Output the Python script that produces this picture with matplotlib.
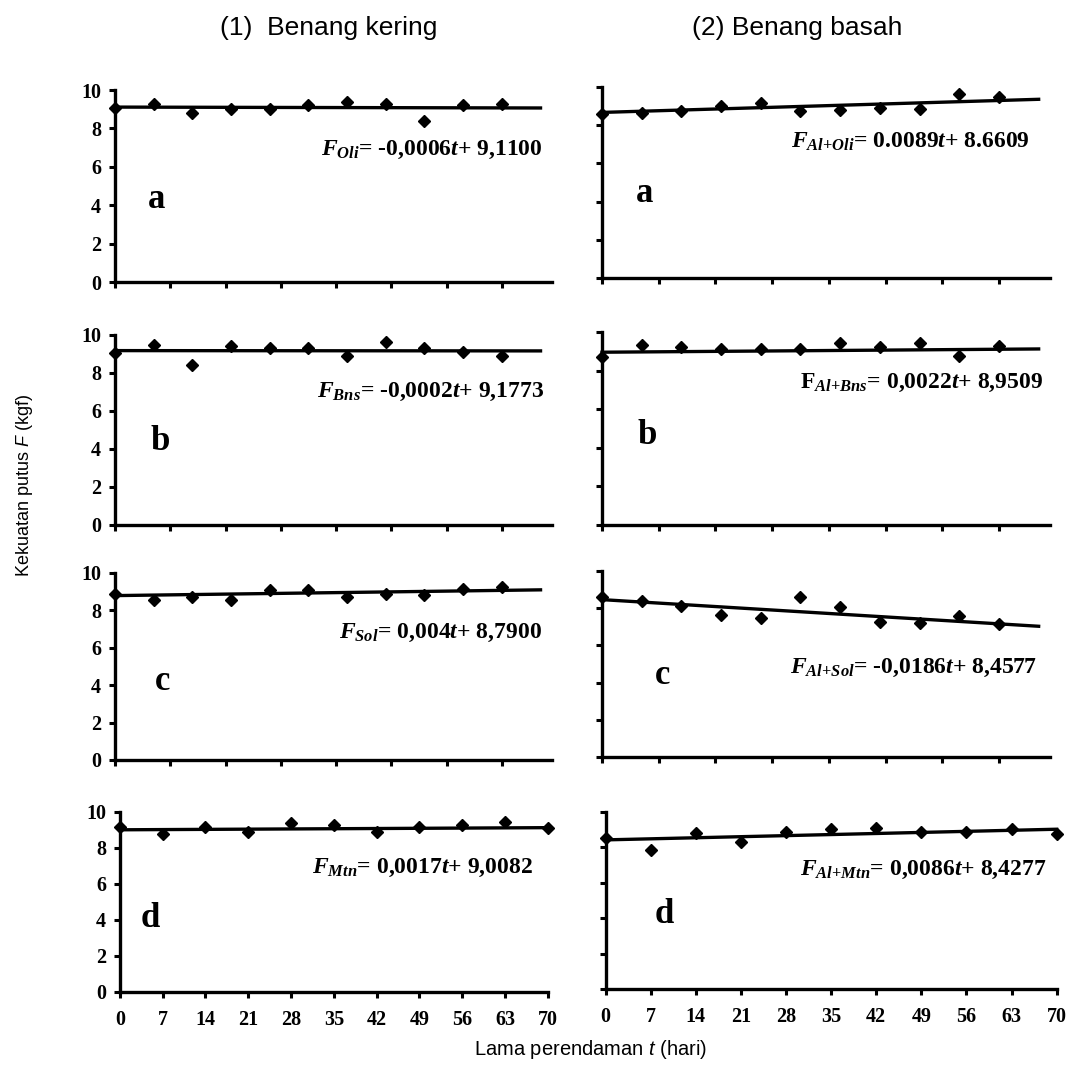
import matplotlib
matplotlib.use('Agg')
import matplotlib.pyplot as plt
import numpy as np

# soaking time (days)
t = [0, 7, 14, 21, 28, 35, 42, 49, 56, 63, 70]

# (1) dry thread
f_oli = [9.05, 9.28, 8.79, 9.02, 9.02, 9.23, 9.36, 9.28, 8.36, 9.23, 9.27]
f_bns = [9.03, 9.46, 8.41, 9.42, 9.30, 9.30, 8.90, 9.63, 9.30, 9.12, 8.90]
f_sol = [8.89, 8.53, 8.71, 8.53, 9.07, 9.07, 8.71, 8.89, 8.80, 9.15, 9.25]
f_mtn = [9.14, 8.78, 9.18, 8.90, 9.36, 9.27, 8.90, 9.14, 9.27, 9.46, 9.09]

# (2) wet thread
f_al_oli = [8.57, 8.65, 8.73, 9.00, 9.17, 8.73, 8.81, 8.90, 8.85, 9.60, 9.46]
f_al_bns = [8.72, 9.33, 9.21, 9.12, 9.12, 9.12, 9.42, 9.21, 9.42, 8.77, 9.26]
f_al_sol = [8.58, 8.37, 8.10, 7.63, 7.47, 8.58, 8.05, 7.26, 7.20, 7.58, 7.16]
f_al_mtn = [8.56, 7.87, 8.80, 8.28, 8.90, 9.03, 9.08, 8.90, 8.90, 9.03, 8.75]

# regression lines (slope, intercept) from the equations
fits = {
    'oli': (-0.0006, 9.1100), 'bns': (-0.0002, 9.1773),
    'sol': (0.004, 8.7900), 'mtn': (0.0017, 9.0082),
    'al_oli': (0.0089, 8.6609), 'al_bns': (0.0022, 8.9509),
    'al_sol': (-0.0186, 8.4577), 'al_mtn': (0.0086, 8.4277),
}

equations = {
    'oli': r"$\mathit{F}_{\mathit{Oli}}$= -0,0006$\mathit{t}$+ 9,1100",
    'bns': r"$\mathit{F}_{\mathit{Bns}}$= -0,0002$\mathit{t}$+ 9,1773",
    'sol': r"$\mathit{F}_{\mathit{Sol}}$= 0,004$\mathit{t}$+ 8,7900",
    'mtn': r"$\mathit{F}_{\mathit{Mtn}}$= 0,0017$\mathit{t}$+ 9,0082",
    'al_oli': r"$\mathit{F}_{\mathit{Al{+}Oli}}$= 0.0089$\mathit{t}$+ 8.6609",
    'al_bns': r"$\mathrm{F}_{\mathit{Al{+}Bns}}$= 0,0022$\mathit{t}$+ 8,9509",
    'al_sol': r"$\mathit{F}_{\mathit{Al{+}Sol}}$= -0,0186$\mathit{t}$+ 8,4577",
    'al_mtn': r"$\mathit{F}_{\mathit{Al{+}Mtn}}$= 0,0086$\mathit{t}$+ 8,4277",
}

plt.rcParams['mathtext.fontset'] = 'custom'
plt.rcParams['mathtext.rm'] = 'Liberation Serif:bold'
plt.rcParams['mathtext.it'] = 'Liberation Serif:italic:bold'
plt.rcParams['mathtext.sf'] = 'Liberation Sans:italic'

fig = plt.figure(figsize=(10.7, 10.74), dpi=100)

# name, data, letter, axes rect, equation pos, letter pos, bottom row?
panels = [
    ('oli', f_oli, 'a', [0.1075, 0.7374, 0.408, 0.1788], (0.979, 0.687), (0.096, 0.43), False),
    ('bns', f_bns, 'b', [0.1075, 0.5112, 0.408, 0.1769], (0.984, 0.70), (0.103, 0.437), False),
    ('sol', f_sol, 'c', [0.1075, 0.2924, 0.408, 0.1741], (0.977, 0.68), (0.108, 0.42), False),
    ('mtn', f_mtn, 'd', [0.112, 0.0764, 0.400, 0.1676], (0.965, 0.69), (0.07, 0.41), True),
    ('al_oli', f_al_oli, 'a', [0.5626, 0.7409, 0.4187, 0.1783], (0.955, 0.712), (0.096, 0.445), False),
    ('al_bns', f_al_bns, 'b', [0.5626, 0.5112, 0.4187, 0.1797], (0.984, 0.736), (0.10, 0.466), False),
    ('al_sol', f_al_sol, 'c', [0.5626, 0.2952, 0.4187, 0.1732], (0.971, 0.478), (0.136, 0.44), False),
    ('al_mtn', f_al_mtn, 'd', [0.566, 0.0791, 0.4215, 0.1648], (0.978, 0.672), (0.13, 0.42), True),
]

for name, vals, letter, rect, eq_pos, let_pos, bottom in panels:
    ax = fig.add_axes(rect)
    slope, icpt = fits[name]
    t_end = 70 if bottom else 77
    ax.plot([0, t_end], [icpt, icpt + slope * t_end], color='black', lw=2.4,
            clip_on=False, zorder=2)
    ax.plot(t, vals, 'D', color='black', ms=6.5, clip_on=False, zorder=3)

    ax.set_ylim(0, 10)
    ax.set_yticks(range(0, 11, 2))
    if bottom:
        ax.set_xlim(0, 70)
        ax.set_xticks(range(0, 71, 7))
    else:
        ax.set_xlim(0, 79)
        ax.set_xticks(range(0, 71, 10))
        ax.set_xticklabels([])
    if name.startswith('al_'):
        ax.set_yticklabels([])

    for s in ['top', 'right']:
        ax.spines[s].set_visible(False)
    for s in ['left', 'bottom']:
        ax.spines[s].set_linewidth(2.4)
    ax.tick_params(axis='both', direction='out', length=4, width=2.2)
    ax.tick_params(axis='y', pad=6)
    ax.tick_params(axis='x', pad=9)
    for lab in ax.get_xticklabels() + ax.get_yticklabels():
        lab.set_fontfamily('Liberation Serif')
        lab.set_fontweight('bold')
        lab.set_fontsize(14.5)
    ax.patch.set_alpha(0)

    ax.text(eq_pos[0], eq_pos[1], equations[name], transform=ax.transAxes,
            ha='right', va='center', fontsize=17, fontfamily='Liberation Serif',
            fontweight='bold')
    ax.text(let_pos[0], let_pos[1], letter, transform=ax.transAxes,
            ha='center', va='center', fontsize=25, fontfamily='Liberation Serif',
            fontweight='bold')

fig.text(0.307, 0.974, '(1)  Benang kering', ha='center', va='center',
         fontsize=19, fontfamily='Liberation Sans')
fig.text(0.745, 0.974, '(2) Benang basah', ha='center', va='center',
         fontsize=19, fontfamily='Liberation Sans')
fig.text(0.023, 0.548, r'Kekuatan putus $\mathsf{F}$ (kgf)', rotation=90,
         ha='center', va='center', fontsize=13, fontfamily='Liberation Sans')
fig.text(0.552, 0.0225, r'Lama perendaman $\mathsf{t}$ (hari)', ha='center',
         va='center', fontsize=14.5, fontfamily='Liberation Sans')

fig.savefig('out.png', dpi=100)
